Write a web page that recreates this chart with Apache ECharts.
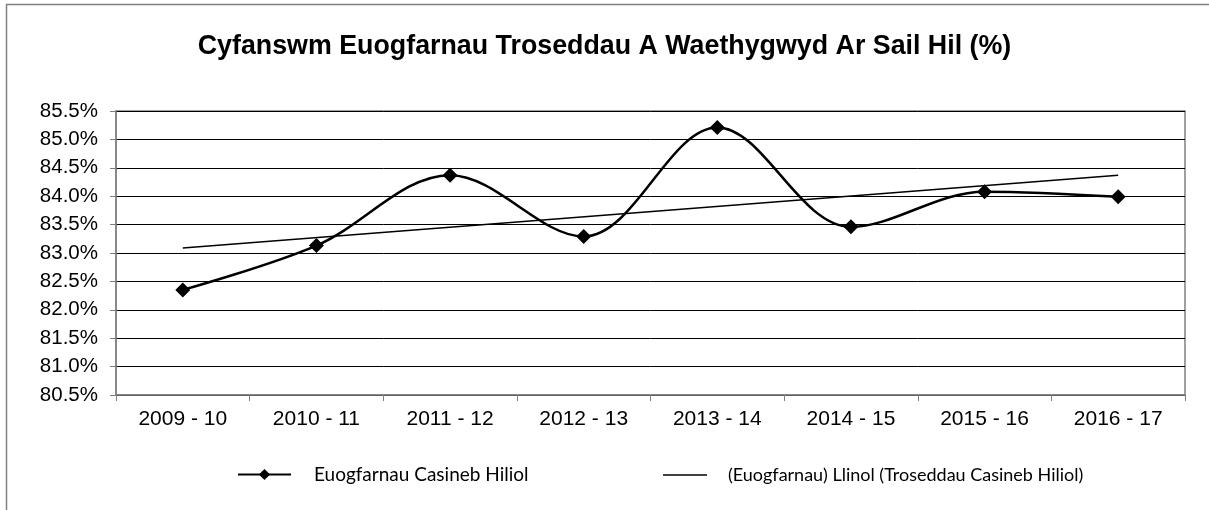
<!DOCTYPE html>
<html>
<head>
<meta charset="utf-8">
<script src="https://cdn.jsdelivr.net/npm/echarts@6/dist/echarts.min.js"></script>
<style>html,body{margin:0;padding:0;background:#fff}#c{width:1209px;height:510px}</style>
</head>
<body>
<div id="c"></div>
<script>
var categories = ['2009 - 10','2010 - 11','2011 - 12','2012 - 13','2013 - 14','2014 - 15','2015 - 16','2016 - 17'];
var convictions = [82.35, 83.13, 84.37, 83.29, 85.21, 83.46, 84.08, 83.99];
var trendPoints = [['2009 - 10', 83.09], ['2016 - 17', 84.37]];
var yTicks = {min: 80.5, max: 85.5, step: 0.5};
var seriesNames = ['Euogfarnau Casineb Hiliol', '(Euogfarnau) Llinol (Troseddau Casineb Hiliol)'];
var titleText = 'Cyfanswm Euogfarnau Troseddau A Waethygwyd Ar Sail Hil (%)';

var chart = echarts.init(document.getElementById('c'), null, {renderer: 'canvas'});
chart.setOption({
  animation: false,
  backgroundColor: '#fff',
  title: {
    text: titleText, left: 'center', top: 28,
    textStyle: {fontFamily: 'Liberation Sans, Arial', fontWeight: 'bold', fontSize: 26.8, color: '#000'}
  },
  graphic: [{
    type: 'rect', shape: {x: 6.5, y: 4.5, width: 1300, height: 600},
    style: {fill: 'none', stroke: '#808080', lineWidth: 1.5}, silent: true, z: -1
  }],
  legend: [{
    data: [seriesNames[0]], left: 237, top: 465, padding: 0, itemWidth: 53, itemHeight: 14,
    textStyle: {fontFamily: 'Lato, Open Sans', fontSize: 19, color: '#000', padding: [0,0,0,18]}
  }, {
    data: [{name: seriesNames[1], icon: 'rect'}], left: 663, top: 466, padding: 0, itemWidth: 44, itemHeight: 1.5,
    itemStyle: {color: '#000', borderWidth: 0},
    textStyle: {fontFamily: 'Lato, Open Sans', fontSize: 18, color: '#000', padding: [0,0,0,16]}
  }],
  grid: {left: 116, right: 24, top: 111, bottom: 115, show: true, borderColor: '#808080', borderWidth: 1.5},
  xAxis: {
    type: 'category', data: categories, boundaryGap: true,
    axisLine: {lineStyle: {color: '#808080', width: 1.5}},
    axisTick: {show: true, alignWithLabel: false, length: 6, lineStyle: {color: '#808080'}},
    axisLabel: {fontFamily: 'Liberation Sans, Arial', fontSize: 21, color: '#000', margin: 14}
  },
  yAxis: {
    type: 'value', min: yTicks.min, max: yTicks.max, interval: yTicks.step,
    axisLine: {show: true, lineStyle: {color: '#808080', width: 1.5}},
    axisTick: {show: true, length: 6, lineStyle: {color: '#808080'}},
    splitLine: {lineStyle: {color: '#000', width: 1}},
    axisLabel: {fontFamily: 'Liberation Sans, Arial', fontSize: 20.5, color: '#000', margin: 18,
      formatter: function (v) { return v.toFixed(1) + '%'; }}
  },
  series: [{
    name: seriesNames[0], type: 'line', data: convictions, smooth: 0.35,
    symbol: 'diamond', symbolSize: 15,
    lineStyle: {color: '#000', width: 2.5}, itemStyle: {color: '#000'}, z: 3
  }, {
    name: seriesNames[1], type: 'line', data: trendPoints, symbol: 'none',
    lineStyle: {color: '#000', width: 1.5}, itemStyle: {color: '#000'}, z: 2
  }]
});
</script>
</body>
</html>
